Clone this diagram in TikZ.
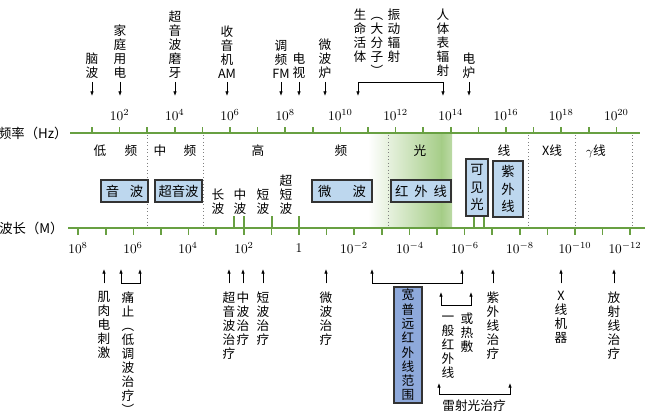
\documentclass[tikz,border=0pt]{standalone}
\usepackage{fontspec}
\usepackage{graphicx}
\newfontfamily\cjk{Noto Sans CJK SC}
\usetikzlibrary{arrows.meta}
\definecolor{axisgreen}{RGB}{104,160,66}
\definecolor{lightgreen}{RGB}{165,205,135}
\definecolor{boxblue}{RGB}{189,215,238}
\definecolor{deepblue}{RGB}{142,169,219}
\newcommand\vlparen{\rotatebox[origin=c]{-90}{（}}
\newcommand\vrparen{\rotatebox[origin=c]{-90}{）}}

\tikzset{every picture/.style={line width=0.75pt}}
\tikzset{
  lbl/.style={font=\cjk\fontsize{9.5}{10.5}\selectfont, inner sep=0.75pt, align=center},
  num/.style={font=\fontsize{10}{12}\selectfont, inner sep=0.75pt},
  axisline/.style={color=axisgreen, line width=1.5},
  tickline/.style={color=axisgreen, line width=1.1},
  sepline/.style={color=gray, dotted, line width=0.6},
  bandbox/.style={draw=black!80, fill=boxblue, line width=1, inner sep=0pt, font=\cjk\fontsize{10}{13}\selectfont, align=center},
  arr/.style={-{Latex[length=3.5pt,width=2.6pt]}, line width=0.5},
  darr/.style={{Latex[length=3.5pt,width=2.6pt]}-{Latex[length=3.5pt,width=2.6pt]}, line width=0.5}
}

\begin{document}
\begin{tikzpicture}[x=0.75pt,y=0.75pt,yscale=-1,xscale=1]
\useasboundingbox (0,0) rectangle (651,420);

%Shape: Rectangle (light band)
\shade [left color=white, right color=lightgreen] (368,134) rectangle (442,227);
\shade [left color=lightgreen, right color=lightgreen!75] (441.5,134) rectangle (452,227);
%Straight Lines (band borders)
\foreach \x in {147,203,388,528,575,632}
  \draw [sepline] (\x,135) -- (\x,227);

%Straight Lines (axes and ticks)
\draw [axisline] (70,133) -- (640,133);
\draw [axisline] (68,228) -- (645,228);
\foreach \n in {1,...,20}
  \draw [tickline] ({64.4+27.6*\n},133) -- ++(0,-6);
\foreach \m in {-12,...,8}
  \draw [tickline] ({299-27.6*\m},228) -- ++(0,7);
\foreach \x in {234,244,272,299,474,484}
  \draw [tickline] (\x,228) -- (\x,216);

% Text Node
\node [lbl, anchor=east, font=\cjk\fontsize{10}{12}\selectfont] (freq) at (69,133) {频率（Hz）};
% Text Node
\node [lbl, anchor=east, font=\cjk\fontsize{10}{12}\selectfont] (wave) at (65,228) {波长（M）};

\foreach \n in {2,4,...,20}
  \node [num] (f\n) at ({64.4+27.6*\n},115) {$10^{\n}$};
\foreach \x/\t [count=\i] in {78/10^{8},133/10^{6},188/10^{4},244/10^{2},299/1,354/10^{-2},410/10^{-4},465/10^{-6},520/10^{-8},575/10^{-10},625/10^{-12}}
  \node [num] (w\i) at (\x,248) {$\t$};

\foreach \x/\t [count=\i] in {100/低,131/频,160/中,190/频,258/高,341/频,420/光,504/线,552/X线,596/$\gamma$线}
  \node [lbl] (band\i) at (\x,151) {\t};

%Shape: Rectangle
\node [bandbox, minimum width=35.25pt, minimum height=16.5pt] (sound) at (124.5,191) {音\hspace{8pt}波};
\node [bandbox, minimum width=35.25pt, minimum height=16.5pt] (ultrasound) at (178.5,191) {超音波};
\node [bandbox, minimum width=45pt, minimum height=16.5pt] (microwave) at (342,191) {微\hspace{16pt}波};
\node [bandbox, minimum width=45pt, minimum height=16.5pt] (infrared) at (421,191) {红\hspace{4.5pt}外\hspace{4.5pt}线};
\node [bandbox, minimum width=16.5pt, minimum height=42.75pt] (visible) at (477,187.5) {可\\见\\光};
\node [bandbox, minimum width=22.5pt, minimum height=42pt] (ultraviolet) at (508,189) {紫\\外\\线};

% Text Node
\node [lbl, anchor=south] (long) at (218,216) {长\\波};
\node [lbl, anchor=south] (medium) at (240,216) {中\\波};
\node [lbl, anchor=south] (short) at (263,216) {短\\波};
\node [lbl, anchor=south] (vshort) at (286,216) {超\\短\\波};

% Text Node (frequency uses)
\node [lbl, anchor=south] (nbrain) at (92,80) {脑\\波};
\node [lbl, anchor=south] (nhome) at (120,80) {家\\庭\\用\\电};
\node [lbl, anchor=south] (ngrind) at (175,80) {超\\音\\波\\磨\\牙};
\node [lbl, anchor=south] (nam) at (227,80) {收\\音\\机\\AM};
\node [lbl, anchor=south] (nfm) at (281,80) {调\\频\\FM};
\node [lbl, anchor=south] (ntv) at (299,80) {电\\视};
\node [lbl, anchor=south] (noven) at (325,80) {微\\波\\炉};
\node [lbl, anchor=north] (nlife) at (360,7) {生\\命\\活\\体};
\node [lbl, anchor=north] (nmol) at (377,7) {\vlparen\\大\\分\\子\\\vrparen};
\node [lbl, anchor=north] (nvib) at (394,7) {振\\动\\辐\\射};
\node [lbl, anchor=north] (nbody) at (443,7) {人\\体\\表\\辐\\射};
\node [lbl, anchor=south] (nstove) at (469,80) {电\\炉};

%Straight Lines (frequency arrows)
\coordinate (trow) at (0,96);
\foreach \nm in {brain,home,grind,am,fm,tv,oven,stove}
  \draw [arr, shorten <=1.5pt] (n\nm.south) -- (n\nm.south |- trow);
\coordinate (tlife) at (358,96);
\coordinate (tbody) at (443,96);
\draw [darr] (tlife) -- ++(0,-14) -| (tbody);

% Text Node (wavelength uses)
\node [lbl, anchor=north] (nmuscle) at (104,290) {肌\\肉\\电\\刺\\激};
\node [lbl, anchor=north] (npain) at (128,290) {痛\\止\\\vlparen\\低\\调\\波\\治\\疗\\\vrparen};
\node [lbl, anchor=north] (nultra) at (229,290) {超\\音\\波\\治\\疗};
\node [lbl, anchor=north] (nmw) at (243,290) {中\\波\\治\\疗};
\node [lbl, anchor=north] (nsw) at (263,290) {短\\波\\治\\疗};
\node [lbl, anchor=north] (nmicro) at (326,290) {微\\波\\治\\疗};
\node [bandbox, fill=deepblue, font=\cjk\fontsize{9.5}{10.7}\selectfont, minimum width=21pt, minimum height=87pt] (nwide) at (408,345) {宽\\普\\远\\红\\外\\线\\范\\围};
\node [lbl, anchor=north] (nheat) at (467,311) {或\\热\\敷};
\node [lbl, anchor=north] (ngen) at (448,315) {一\\般\\红\\外\\线};
\node [lbl] (nlaser) at (474,406) {雷射光治疗};
\node [lbl, anchor=north] (nuv) at (493,290) {紫\\外\\线\\治\\疗};
\node [lbl, anchor=north] (nxray) at (561,290) {X\\线\\机\\器};
\node [lbl, anchor=north] (nradio) at (614,290) {放\\射\\线\\治\\疗};

%Straight Lines (wavelength arrows)
\coordinate (brow) at (0,269);
\foreach \nm in {muscle,ultra,mw,sw,micro,uv,xray,radio}
  \draw [arr, shorten <=5pt] (n\nm.north) -- (n\nm.north |- brow);
\coordinate (painl) at (121,269);
\coordinate (painr) at (140,269);
\draw [darr] (painl) -- ++(0,14) -| (painr);
\coordinate (widel) at (372,269);
\coordinate (wider) at (462,269);
\draw [darr] (widel) -- ++(0,14) -| (wider);
\coordinate (heatl) at (441,292);
\coordinate (heatr) at (471,292);
\draw [darr] (heatl) -- ++(0,13) -| (heatr);
\coordinate (laserl) at (439,383);
\coordinate (laserr) at (510,383);
\draw [darr] (laserl) -- ++(0,11) -| (laserr);

\end{tikzpicture}
\end{document}
